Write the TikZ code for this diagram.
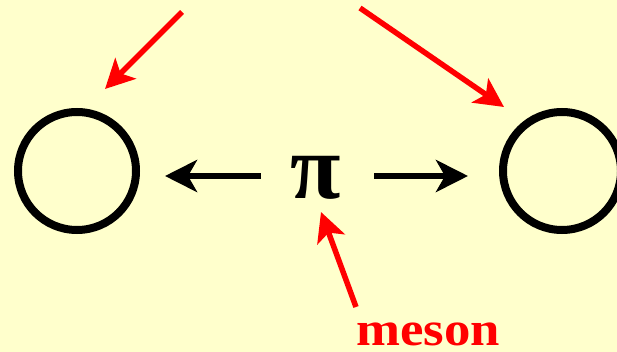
\documentclass[tikz,border=0pt]{standalone}
\usepackage{fontspec}
\usepackage{graphicx}
\newfontfamily\labelfont{Liberation Serif}
\usetikzlibrary{arrows.meta,positioning}
\definecolor{paper}{HTML}{FFFFCC}
\definecolor{pointred}{HTML}{FF0000}

\begin{document}
\begin{tikzpicture}[
  x=1pt, y=-1pt,
  nucleon/.style={draw=black, circle, line width=8pt, minimum size=118pt, inner sep=0pt},
  force/.style={-{Stealth[length=32pt,width=32pt,inset=9pt]}, line width=6pt, draw=black},
  tag/.style={-{Stealth[length=29pt,width=29pt,inset=7pt]}, line width=5.5pt, draw=pointred},
  pisym/.style={font=\labelfont\bfseries\fontsize{92}{92}\selectfont, inner sep=0pt, anchor=base},
  tagtext/.style={font=\labelfont\bfseries\fontsize{48}{48}\selectfont, text=pointred, inner sep=0pt, anchor=base}
]

% background and page size
\fill[paper] (0,0) rectangle (617,352);
\useasboundingbox (0,0) rectangle (617,352);

% two nucleons and the exchanged pion
\node[nucleon] (lnuc) at (77,171) {};
\node[nucleon] (rnuc) at (562,171) {};
\node[pisym] (pi) at (316,199) {π};

% pion pushes out to both sides
\draw[force] (pi.west |- 0,176) ++(-30,0) -- ([xshift=25pt]lnuc.east |- 0,176);
\draw[force] (pi.east |- 0,176) ++(33,0) -- ([xshift=-31pt]rnuc.west |- 0,176);

% label and pointers
\node[tagtext] (meson) at (428,345) {\scalebox{1.1}[1]{meson}};
\coordinate (ltail) at (182,12);
\coordinate (lhead) at (105,89);
\coordinate (rtail) at (360,8);
\coordinate (rhead) at (504,107);
\coordinate (mtail) at (356,307);
\coordinate (mhead) at (321,212);

\draw[tag] (ltail) -- (lhead);
\draw[tag] (rtail) -- (rhead);
\draw[tag] (mtail) -- (mhead);

\end{tikzpicture}
\end{document}
